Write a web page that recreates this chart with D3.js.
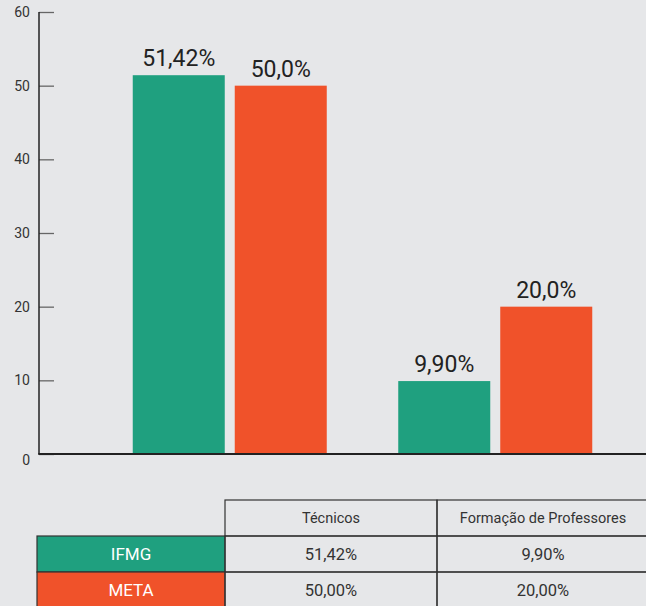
<!DOCTYPE html>
<html>
<head>
<meta charset="utf-8">
<script src="https://cdn.jsdelivr.net/npm/d3@7"></script>
<style>
  body { margin: 0; background: #e6e7e9; }
  svg { display: block; font-family: Roboto, "Noto Sans", sans-serif; }
</style>
</head>
<body>
<script>
// chart data
var categories = ["Técnicos", "Formação de Professores"];
var seriesNames = ["IFMG", "META"];
var ifmgValues = [51.42, 9.90];
var metaValues = [50.0, 20.0];
var barLabels = [["51,42%", "9,90%"], ["50,0%", "20,0%"]];
var tableValues = [["51,42%", "9,90%"], ["50,00%", "20,00%"]];
var yTicks = [0, 10, 20, 30, 40, 50, 60];
var colors = ["#1fa07f", "#f0522a"];

var W = 646, H = 606;
var svg = d3.select("body").append("svg")
    .attr("width", W)
    .attr("height", H);

// scales
var yScale = d3.scaleLinear().domain([0, 60]).range([454, 12]);
var xScale = d3.scaleBand().domain(categories).range([97, 628]).padding(0);
var barW = 92, barGap = 10;

// y axis
var yAxis = svg.append("g")
    .attr("transform", "translate(39,0)")
    .call(d3.axisRight(yScale).tickValues(yTicks).tickSize(15).tickFormat(""));
yAxis.select(".domain").remove();
yAxis.selectAll(".tick line").attr("stroke", "#666").attr("stroke-width", 1.3);

svg.selectAll(".ylab")
    .data(yTicks)
  .enter().append("text")
    .attr("class", "ylab")
    .attr("x", 30)
    .attr("y", function(d) { return yScale(d) + (d === 0 ? 11 : 5); })
    .attr("text-anchor", "end")
    .attr("font-size", 14)
    .attr("fill", "#333")
    .text(function(d) { return d; });

// bars
var series = [ifmgValues, metaValues];
series.forEach(function(vals, s) {
    var xPos = function(i) {
        var c = xScale(categories[i]) + xScale.bandwidth() / 2;
        return s === 0 ? c - barGap / 2 - barW : c + barGap / 2;
    };
    svg.selectAll(".bar" + s)
        .data(vals)
      .enter().append("rect")
        .attr("class", "bar" + s)
        .attr("x", function(d, i) { return xPos(i); })
        .attr("y", function(d) { return yScale(d); })
        .attr("width", barW)
        .attr("height", function(d) { return yScale(0) - yScale(d); })
        .attr("fill", colors[s]);
    svg.selectAll(".lab" + s)
        .data(vals)
      .enter().append("text")
        .attr("class", "lab" + s)
        .attr("x", function(d, i) { return xPos(i) + barW / 2; })
        .attr("y", function(d) { return yScale(d) - 9; })
        .attr("text-anchor", "middle")
        .attr("font-size", 23)
        .attr("fill", "#222")
        .text(function(d, i) { return barLabels[s][i]; });
});

// axis lines
svg.append("line").attr("x1", 39).attr("x2", 39).attr("y1", 12).attr("y2", 454)
    .attr("stroke", "#222").attr("stroke-width", 1.5);
svg.append("line").attr("x1", 38.25).attr("x2", W).attr("y1", 454).attr("y2", 454)
    .attr("stroke", "#222").attr("stroke-width", 2);

// data table
var colX = [37, 225, 437, 649];
var rowY = [500, 536, 572, 608];
var tbl = svg.append("g");

// header row
categories.forEach(function(c, j) {
    tbl.append("rect")
        .attr("x", colX[j + 1]).attr("y", rowY[0])
        .attr("width", colX[j + 2] - colX[j + 1]).attr("height", rowY[1] - rowY[0])
        .attr("fill", "none").attr("stroke", "#333").attr("stroke-width", 1.2);
    tbl.append("text")
        .attr("x", (colX[j + 1] + colX[j + 2]) / 2).attr("y", rowY[0] + 23)
        .attr("text-anchor", "middle").attr("font-size", 14.5).attr("fill", "#333")
        .text(c);
});

seriesNames.forEach(function(name, r) {
    tbl.append("rect")
        .attr("x", colX[0]).attr("y", rowY[r + 1])
        .attr("width", colX[1] - colX[0]).attr("height", rowY[r + 2] - rowY[r + 1])
        .attr("fill", colors[r]).attr("stroke", "#333").attr("stroke-width", 1.2);
    tbl.append("text")
        .attr("x", (colX[0] + colX[1]) / 2).attr("y", rowY[r + 1] + 24)
        .attr("text-anchor", "middle").attr("font-size", 17).attr("fill", "#fff")
        .text(name);
    categories.forEach(function(c, j) {
        tbl.append("rect")
            .attr("x", colX[j + 1]).attr("y", rowY[r + 1])
            .attr("width", colX[j + 2] - colX[j + 1]).attr("height", rowY[r + 2] - rowY[r + 1])
            .attr("fill", "none").attr("stroke", "#333").attr("stroke-width", 1.2);
        tbl.append("text")
            .attr("x", (colX[j + 1] + colX[j + 2]) / 2).attr("y", rowY[r + 1] + 24)
            .attr("text-anchor", "middle").attr("font-size", 16.5).attr("fill", "#333")
            .text(tableValues[r][j]);
    });
});
</script>
</body>
</html>
